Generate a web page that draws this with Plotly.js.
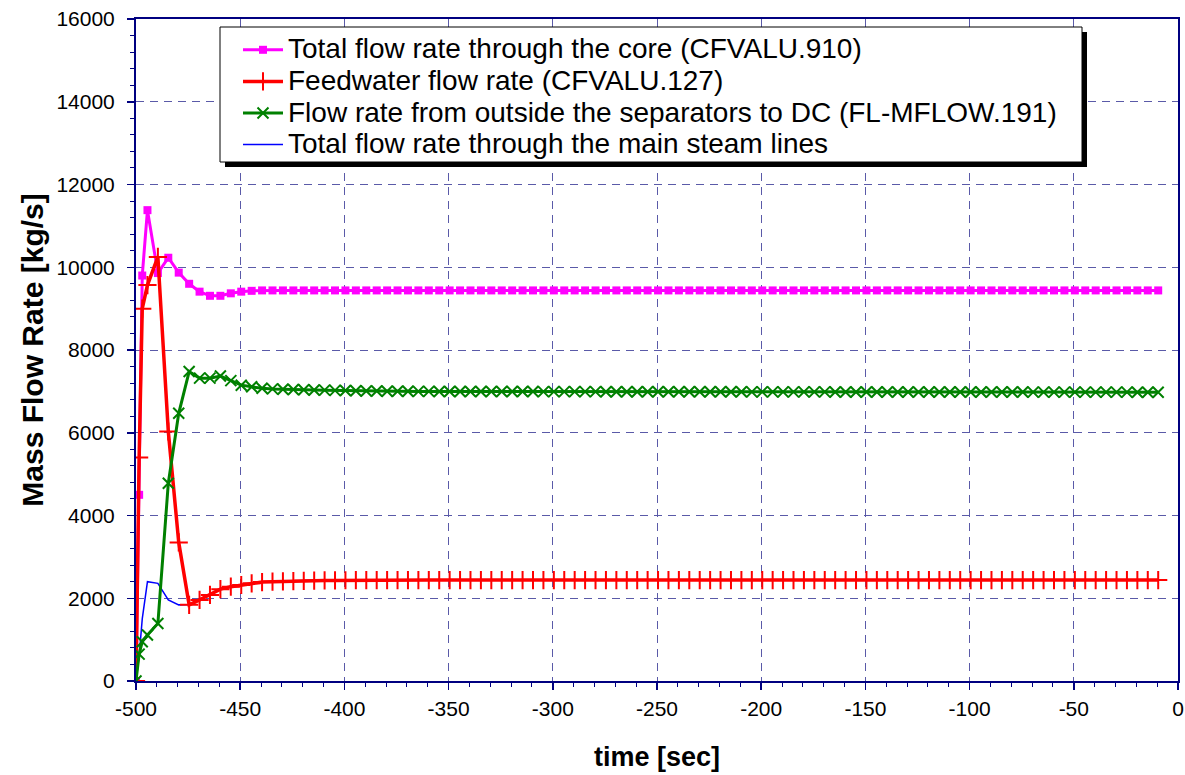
<!DOCTYPE html>
<html>
<head>
<meta charset="utf-8">
<script src="https://cdn.plot.ly/plotly-3.0.1.min.js"></script>
<style>
  html, body { margin: 0; padding: 0; background: #ffffff; }
  #chart { width: 1185px; height: 775px; }
</style>
</head>
<body>
<div id="chart"></div>
<script>
// ---------- data ----------
const timeSec = [
  -500, -498.5, -497, -494.5, -489.5, -484.5, -479.5, -474.5, -469.5, -464.5,
  -459.5, -454.5, -449.5, -444.5, -439.5, -434.5, -429.5, -424.5, -419.5, -414.5,
  -409.5, -404.5, -399.5, -394.5, -389.5, -384.5, -379.5, -374.5, -369.5, -364.5,
  -359.5, -354.5, -349.5, -344.5, -339.5, -334.5, -329.5, -324.5, -319.5, -314.5,
  -309.5, -304.5, -299.5, -294.5, -289.5, -284.5, -279.5, -274.5, -269.5, -264.5,
  -259.5, -254.5, -249.5, -244.5, -239.5, -234.5, -229.5, -224.5, -219.5, -214.5,
  -209.5, -204.5, -199.5, -194.5, -189.5, -184.5, -179.5, -174.5, -169.5, -164.5,
  -159.5, -154.5, -149.5, -144.5, -139.5, -134.5, -129.5, -124.5, -119.5, -114.5,
  -109.5, -104.5, -99.5, -94.5, -89.5, -84.5, -79.5, -74.5, -69.5, -64.5,
  -59.5, -54.5, -49.5, -44.5, -39.5, -34.5, -29.5, -24.5, -19.5, -14.5,
  -9.5
];

const coreFlow = [
  0, 4500, 9800, 11380, 9860, 10230, 9870, 9600, 9410, 9310,
  9310, 9370, 9410, 9430, 9440, 9440, 9440, 9440, 9440, 9440,
  9440, 9440, 9440, 9440, 9440, 9440, 9440, 9440, 9440, 9440,
  9440, 9440, 9440, 9440, 9440, 9440, 9440, 9440, 9440, 9440,
  9440, 9440, 9440, 9440, 9440, 9440, 9440, 9440, 9440, 9440,
  9440, 9440, 9440, 9440, 9440, 9440, 9440, 9440, 9440, 9440,
  9440, 9440, 9440, 9440, 9440, 9440, 9440, 9440, 9440, 9440,
  9440, 9440, 9440, 9440, 9440, 9440, 9440, 9440, 9440, 9440,
  9440, 9440, 9440, 9440, 9440, 9440, 9440, 9440, 9440, 9440,
  9440, 9440, 9440, 9440, 9440, 9440, 9440, 9440, 9440, 9440,
  9440
];

const feedwaterFlow = [
  0, 5400, 9000, 9570, 10250, 6030, 3350, 1840, 1960, 2080,
  2220, 2280, 2320, 2360, 2390, 2400, 2410, 2415, 2420, 2425,
  2430, 2432, 2435, 2437, 2438, 2440, 2440, 2440, 2440, 2440,
  2440, 2440, 2440, 2440, 2440, 2440, 2440, 2440, 2440, 2440,
  2440, 2440, 2440, 2440, 2440, 2440, 2440, 2440, 2440, 2440,
  2440, 2440, 2440, 2440, 2440, 2440, 2440, 2440, 2440, 2440,
  2440, 2440, 2440, 2440, 2440, 2440, 2440, 2440, 2440, 2440,
  2440, 2440, 2440, 2440, 2440, 2440, 2440, 2440, 2440, 2440,
  2440, 2440, 2440, 2440, 2440, 2440, 2440, 2440, 2440, 2440,
  2440, 2440, 2440, 2440, 2440, 2440, 2440, 2440, 2440, 2440,
  2440
];

const separatorFlow = [
  0, 650, 950, 1110, 1390, 4780, 6470, 7480, 7320, 7320,
  7370, 7260, 7150, 7110, 7075, 7060, 7050, 7045, 7040, 7035,
  7030, 7025, 7020, 7015, 7010, 7008, 7005, 7003, 7001, 7000,
  7000, 6999, 6998, 6998, 6997, 6997, 6996, 6996, 6995, 6995,
  6995, 6994, 6994, 6994, 6993, 6993, 6993, 6992, 6992, 6992,
  6991, 6991, 6991, 6990, 6990, 6990, 6990, 6989, 6989, 6989,
  6989, 6988, 6988, 6988, 6988, 6987, 6987, 6987, 6987, 6986,
  6986, 6986, 6986, 6985, 6985, 6985, 6985, 6985, 6984, 6984,
  6984, 6984, 6984, 6983, 6983, 6983, 6983, 6983, 6982, 6982,
  6982, 6982, 6982, 6981, 6981, 6981, 6981, 6981, 6980, 6980,
  6980
];

const steamLineFlow = [
  0, 600, 1500, 2400, 2360, 1960, 1840, 1850, 1970, 2090,
  2230, 2290, 2330, 2370, 2395, 2405, 2415, 2425, 2435, 2450,
  2442, 2440, 2440, 2440, 2440, 2440, 2440, 2440, 2440, 2440,
  2440, 2440, 2440, 2440, 2440, 2440, 2440, 2440, 2440, 2440,
  2440, 2440, 2440, 2440, 2440, 2440, 2440, 2440, 2440, 2440,
  2440, 2440, 2440, 2440, 2440, 2440, 2440, 2440, 2440, 2440,
  2440, 2440, 2440, 2440, 2440, 2440, 2440, 2440, 2440, 2440,
  2440, 2440, 2440, 2440, 2440, 2440, 2440, 2440, 2440, 2440,
  2440, 2440, 2440, 2440, 2440, 2440, 2440, 2440, 2440, 2440,
  2440, 2440, 2440, 2440, 2440, 2440, 2440, 2440, 2440, 2440,
  2440
];

const seriesNames = [
  "Total flow rate through the core (CFVALU.910)",
  "Feedwater flow rate (CFVALU.127)",
  "Flow rate from outside the separators to DC (FL-MFLOW.191)",
  "Total flow rate through the main steam lines"
];

const xTickValues = [-500, -450, -400, -350, -300, -250, -200, -150, -100, -50, 0];
const xTickLabels = ["-500", "-450", "-400", "-350", "-300", "-250", "-200", "-150", "-100", "-50", "0"];
const yTickValues = [0, 2000, 4000, 6000, 8000, 10000, 12000, 14000, 16000];
const yTickLabels = ["0", "2000", "4000", "6000", "8000", "10000", "12000", "14000", "16000"];

const xAxisTitle = "time [sec]";
const yAxisTitle = "Mass Flow Rate [kg/s]";

// ---------- styling ----------
const FONT = "Liberation Sans, Arial, Helvetica, sans-serif";
const NAVY = "#000080";
const GRID = "#5a5aa8";

function legendName(s) {
  return '<span style="font-size:28px">' + s + '</span>';
}

const traces = [
  {
    x: timeSec, y: steamLineFlow, name: legendName(seriesNames[3]),
    type: "scatter", mode: "lines", legendrank: 4,
    line: { color: "#0000FF", width: 1.5 }
  },
  {
    x: timeSec, y: coreFlow, name: legendName(seriesNames[0]),
    type: "scatter", mode: "lines+markers", legendrank: 1,
    line: { color: "#FF00FF", width: 3 },
    marker: { symbol: "square", size: 8, color: "#FF00FF" }
  },
  {
    x: timeSec, y: feedwaterFlow, name: legendName(seriesNames[1]),
    type: "scatter", mode: "lines+markers", legendrank: 2,
    line: { color: "#FF0000", width: 3.5 },
    marker: { symbol: "cross-thin", size: 13, color: "#FF0000",
              line: { color: "#FF0000", width: 2 } }
  },
  {
    x: timeSec, y: separatorFlow, name: legendName(seriesNames[2]),
    type: "scatter", mode: "lines+markers", legendrank: 3,
    line: { color: "#008000", width: 3 },
    marker: { symbol: "x-thin", size: 11, color: "#008000",
              line: { color: "#008000", width: 2 } }
  }
];

// legend box (pixel positions converted to paper coordinates)
const L = 136, R = 1178, T = 19, B = 681;
const px = v => (v - L) / (R - L);
const py = v => (B - v) / (B - T);

const layout = {
  width: 1185, height: 775,
  margin: { l: L, r: 1185 - R, t: T, b: 775 - B, pad: 0 },
  paper_bgcolor: "#ffffff",
  plot_bgcolor: "#ffffff",
  font: { family: FONT, color: "#000000", size: 21 },
  showlegend: true,
  legend: {
    x: px(238), y: py(29), xanchor: "left", yanchor: "top",
    bgcolor: "rgba(0,0,0,0)", borderwidth: 0,
    font: { family: FONT, size: 22, color: "#000000" },
    traceorder: "normal", itemwidth: 40
  },
  shapes: [
    { type: "rect", xref: "paper", yref: "paper", layer: "above",
      x0: px(225), x1: px(1087), y0: py(32), y1: py(167),
      fillcolor: "#000000", line: { width: 0 } },
    { type: "rect", xref: "paper", yref: "paper", layer: "above",
      x0: px(220), x1: px(1082), y0: py(27), y1: py(162),
      fillcolor: "#ffffff", line: { color: "#000000", width: 1 } }
  ],
  xaxis: {
    range: [-500, 0], tickmode: "array", tickvals: xTickValues, ticktext: xTickLabels,
    showline: true, linecolor: NAVY, linewidth: 2, mirror: true,
    ticks: "outside", ticklen: 7, tickwidth: 1.5, tickcolor: NAVY,
    ticklabelstandoff: 1,
    showgrid: true, gridcolor: GRID, gridwidth: 1, griddash: "8px,6px",
    minor: { dtick: 10, ticks: "outside", ticklen: 4, tickwidth: 1, tickcolor: NAVY, showgrid: false },
    zeroline: false,
    tickfont: { family: FONT, size: 21, color: "#000000" },
    title: { text: "<b>" + xAxisTitle + "</b>", font: { family: FONT, size: 27, color: "#000000" }, standoff: 28 }
  },
  yaxis: {
    range: [0, 16000], tickmode: "array", tickvals: yTickValues, ticktext: yTickLabels,
    showline: true, linecolor: NAVY, linewidth: 2, mirror: true,
    ticks: "outside", ticklen: 7, tickwidth: 1.5, tickcolor: NAVY,
    ticklabelstandoff: 8,
    showgrid: true, gridcolor: GRID, gridwidth: 1, griddash: "8px,6px",
    minor: { dtick: 400, ticks: "outside", ticklen: 4, tickwidth: 1, tickcolor: NAVY, showgrid: false },
    zeroline: false,
    tickfont: { family: FONT, size: 21, color: "#000000" },
    title: { text: "<b>" + yAxisTitle + "</b>", font: { family: FONT, size: 30, color: "#000000" }, standoff: 4 }
  }
};

Plotly.newPlot("chart", traces, layout, { displayModeBar: false, staticPlot: true });
</script>
</body>
</html>
